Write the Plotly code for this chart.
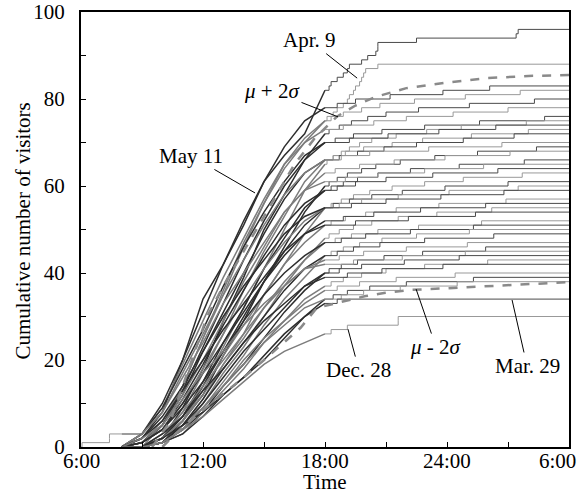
import plotly.graph_objects as go

# ---------------- data (read/estimated from the reference) ----------------
# hours of day on a continuous axis: 6 = 6:00, 24 = 24:00, 30 = 6:00 next morning
ramp_hours = [8, 9, 10, 11, 12, 13, 14, 15, 16, 17, 18]

day_names = [
    "May 11", "Apr. 9", "d83", "d82", "d80", "d78", "d76", "d75", "d74", "d73",
    "d72", "d70", "d69", "d68", "d66", "d65", "d64", "d63", "d61", "d60",
    "d59", "d57", "d56", "d55", "d54", "d52", "d51", "d50", "d49", "d47",
    "d46", "d45", "d44", "d43", "d42", "d40", "d39", "d38", "Mar. 29", "Dec. 28",
]

# cumulative number of visitors at ramp_hours for each day
ramp_counts = [
    [0, 2, 8, 20, 34, 42, 52, 61, 67, 72, 82],
    [0, 0, 5, 14, 25, 36, 47, 56, 64, 70, 75],
    [0, 3, 10, 20, 31, 42, 51, 61, 69, 75, 78],
    [0, 1, 6, 14, 25, 35, 46, 56, 65, 71, 75],
    [0, 0, 2, 9, 18, 29, 39, 50, 58, 66, 72],
    [3, 3, 9, 19, 29, 39, 48, 57, 65, 70, 73],
    [0, 1, 5, 13, 23, 33, 43, 52, 60, 66, 70],
    [0, 0, 2, 6, 14, 23, 32, 41, 50, 59, 65],
    [0, 3, 9, 18, 27, 37, 46, 54, 61, 67, 70],
    [0, 0, 2, 8, 17, 26, 36, 45, 53, 61, 66],
    [0, 1, 5, 12, 22, 31, 40, 49, 57, 63, 66],
    [0, 3, 8, 17, 26, 35, 43, 51, 58, 63, 66],
    [0, 0, 1, 6, 12, 21, 29, 38, 46, 54, 60],
    [0, 1, 5, 12, 20, 29, 38, 46, 54, 59, 63],
    [0, 0, 2, 7, 15, 24, 32, 41, 48, 55, 59],
    [0, 3, 8, 16, 24, 33, 40, 47, 54, 59, 61],
    [0, 1, 4, 11, 19, 28, 36, 44, 51, 56, 59],
    [0, 0, 1, 5, 11, 19, 26, 35, 42, 49, 55],
    [0, 0, 2, 7, 14, 22, 30, 38, 45, 51, 55],
    [0, 1, 4, 10, 18, 26, 34, 41, 47, 52, 55],
    [0, 2, 7, 14, 22, 30, 37, 43, 49, 53, 55],
    [0, 0, 2, 6, 13, 21, 28, 35, 42, 47, 51],
    [0, 1, 4, 10, 17, 24, 31, 38, 44, 49, 52],
    [0, 0, 1, 4, 10, 17, 23, 30, 37, 43, 48],
    [0, 2, 6, 13, 20, 27, 33, 39, 45, 49, 51],
    [0, 0, 2, 6, 12, 19, 25, 32, 38, 43, 47],
    [0, 1, 4, 9, 15, 22, 29, 35, 40, 44, 47],
    [0, 0, 1, 4, 9, 15, 21, 28, 34, 39, 44],
    [0, 0, 1, 5, 11, 18, 24, 30, 36, 41, 44],
    [0, 0, 3, 8, 14, 20, 26, 32, 37, 41, 43],
    [0, 0, 1, 4, 8, 14, 19, 25, 31, 36, 40],
    [0, 2, 5, 11, 17, 22, 28, 33, 37, 41, 42],
    [0, 0, 1, 5, 10, 16, 22, 27, 32, 37, 40],
    [0, 0, 1, 3, 8, 13, 18, 24, 29, 34, 37],
    [0, 0, 3, 7, 13, 18, 24, 29, 33, 37, 39],
    [0, 0, 1, 4, 9, 14, 20, 25, 29, 33, 36],
    [0, 0, 1, 3, 7, 12, 16, 21, 26, 30, 34],
    [0, 0, 1, 4, 9, 14, 19, 24, 28, 32, 34],
    [0, 0, 2, 5, 8, 12, 16, 20, 25, 30, 33],
    [0, 0, 1, 4, 7, 11, 15, 19, 22, 24, 26],
]

# arrival times (hours) of each later visitor after 18:00 (each adds one visitor)
tail_arrivals = [
    [18.2, 18.3, 18.6, 18.9, 19.1, 19.2, 19.8, 20.1, 20.5, 20.6, 20.6, 22.5, 27.4, 27.5],
    [18.1, 18.4, 18.6, 18.9, 19.1, 19.2, 19.4, 19.5, 19.7, 19.8, 19.9, 20.0, 20.6],
    [18.6, 19.5, 21.2, 23.8, 26.1],
    [18.3, 18.9, 19.8, 20.7, 22.4, 24.9, 27.6],
    [18.2, 18.7, 19.3, 20.1, 21.0, 22.6, 25.1, 28.3],
    [18.9, 20.4, 22.0, 24.3, 27.0],
    [18.5, 19.4, 20.8, 22.9, 25.6, 28.8],
    [18.1, 18.4, 18.8, 19.2, 19.7, 20.3, 21.5, 23.0, 24.7, 27.9],
    [19.2, 21.1, 23.6, 26.4],
    [18.4, 19.0, 19.9, 21.3, 22.8, 25.2, 28.0],
    [18.7, 19.6, 20.9, 22.5, 24.8, 27.3],
    [18.8, 20.2, 23.1, 26.7],
    [18.2, 18.6, 19.1, 19.8, 20.5, 21.7, 23.4, 25.5, 28.4],
    [18.5, 19.7, 21.4, 23.9, 27.1],
    [18.3, 18.9, 19.6, 20.6, 22.2, 24.6, 27.8],
    [19.0, 20.6, 22.9, 25.8],
    [18.6, 19.5, 21.0, 23.3, 26.5],
    [18.3, 18.8, 19.4, 20.2, 21.3, 22.9, 24.8, 27.7],
    [18.4, 19.2, 20.3, 21.8, 23.9, 27.0],
    [18.7, 19.8, 21.6, 24.1, 27.5],
    [19.3, 21.0, 23.7, 26.8],
    [18.3, 19.0, 20.0, 21.5, 23.6, 26.9],
    [18.9, 20.4, 22.7, 25.9],
    [18.2, 18.7, 19.4, 20.3, 21.6, 23.5, 26.2],
    [19.5, 22.1, 25.4],
    [18.5, 19.3, 20.6, 22.6, 25.7],
    [18.8, 20.0, 22.2, 25.3],
    [18.3, 18.9, 19.7, 20.8, 22.5, 25.1],
    [18.6, 19.4, 20.7, 22.9, 26.3],
    [18.7, 19.9, 22.0, 25.0],
    [18.2, 18.8, 19.6, 20.9, 22.8, 25.9],
    [19.4, 21.8, 24.9],
    [18.7, 19.8, 21.9, 24.6],
    [18.3, 18.9, 19.8, 21.0, 22.9, 26.0],
    [19.1, 20.8, 23.8],
    [18.6, 19.7, 21.5, 24.4],
    [18.4, 19.1, 20.2, 22.0, 25.3],
    [18.8, 19.9, 21.7, 24.5],
    [18.6],
    [18.3, 19.1, 21.6, 21.6],
]

# visitors arriving before 8:00 (only one day had any)
early_arrivals = {5: [6.05, 7.4, 7.4]}

# mean +/- 2 sigma envelopes
upper_hours = [9.5, 10.4, 11.0, 12.2, 13.0, 14.0, 14.66, 15.5, 16.5, 17.5, 18.6, 19.5, 20.5, 22.0, 24.0, 26.0, 28.0, 30.0]
upper_vals = [0, 6, 14, 30, 37, 45, 50, 57, 65, 71, 76, 78.5, 80.5, 82.5, 83.8, 84.8, 85.3, 85.5]
lower_hours = [10.0, 11.0, 12.0, 13.0, 14.0, 15.0, 16.0, 16.8, 17.6, 18.7, 20.0, 20.9, 22.2, 24.0, 26.0, 28.0, 30.0]
lower_vals = [0, 4.6, 8.5, 12.2, 16, 20, 24, 27.4, 32, 33.3, 34.7, 35.4, 36.1, 36.5, 37, 37.5, 37.9]

x_tick_vals = [6, 12, 18, 24, 30]
x_tick_text = ["6:00", "12:00", "18:00", "24:00", "6:00"]

# labels with leader lines: (text, x, y)
labels = [
    ("Apr. 9", 19.58, 84.8),
    ("<i>μ</i> + 2<i>σ</i>", 18.64, 75.9),
    ("May 11", 14.56, 58.4),
    ("Dec. 28", 19.13, 27.1),
    ("<i>μ</i> - 2<i>σ</i>", 22.48, 36.3),
    ("Mar. 29", 27.2, 33.8),
]
label_offsets = [(-48, -38), (-66, -26), (-64, -37), (11, 41), (20, 58), (15, 66)]

# ---------------- figure ----------------
FONT = "Liberation Serif"
FS = 21
fig = go.Figure()
ramp_colors = ["#2e2e2e", "#7c7c7c"]
tail_colors = ["#4a4a4a", "#999999"]

for i, name in enumerate(day_names):
    if i in early_arrivals:
        ea = early_arrivals[i]
        fig.add_trace(go.Scatter(
            x=[6.0] + ea + [ramp_hours[0]],
            y=[0] + list(range(1, len(ea) + 1)) + [len(ea)],
            mode="lines", line=dict(color=tail_colors[i % 2], width=1, shape="hv"),
            showlegend=False, hoverinfo="skip"))
    fig.add_trace(go.Scatter(
        x=ramp_hours, y=ramp_counts[i], mode="lines",
        line=dict(color=ramp_colors[i % 2], width=1.5), showlegend=False, name=name))
    c0 = ramp_counts[i][-1]
    arr = tail_arrivals[i]
    fig.add_trace(go.Scatter(
        x=[ramp_hours[-1]] + arr + [30],
        y=[c0] + [c0 + k + 1 for k in range(len(arr))] + [c0 + len(arr)],
        mode="lines", line=dict(color=tail_colors[i % 2], width=1, shape="hv"),
        showlegend=False, name=name))

for hx, hy in ((upper_hours, upper_vals), (lower_hours, lower_vals)):
    fig.add_trace(go.Scatter(
        x=hx, y=hy, mode="lines",
        line=dict(color="#8a8a8a", width=2.5, dash="dash"),
        showlegend=False))

for (txt, lx, ly), (ax, ay) in zip(labels, label_offsets):
    fig.add_annotation(
        x=lx, y=ly, xref="x", yref="y", text=txt, showarrow=True,
        arrowhead=0, arrowwidth=1, arrowcolor="black", ax=ax, ay=ay,
        standoff=0, startstandoff=0,
        font=dict(family=FONT, size=FS, color="black"))

# x tick labels (as text placed at the tick values, slightly closer to the axis)
for k, (tv, tt) in enumerate(zip(x_tick_vals, x_tick_text)):
    last = k == len(x_tick_vals) - 1
    fig.add_annotation(x=tv, y=0, xref="x", yref="paper", text=tt, showarrow=False,
                       xanchor="right" if last else "center", yanchor="middle",
                       xshift=9 if last else 0, yshift=-14,
                       font=dict(family=FONT, size=FS, color="black"))

# axis titles
fig.add_annotation(x=0, y=0.5, xref="paper", yref="paper", text="Cumulative number of visitors",
                   textangle=-90, showarrow=False, xanchor="center", yanchor="middle",
                   xshift=-59, yshift=-2, font=dict(family=FONT, size=FS, color="black"))
fig.add_annotation(x=0.5, y=0, xref="paper", yref="paper", text="Time",
                   showarrow=False, xanchor="center", yanchor="middle",
                   yshift=-35, font=dict(family=FONT, size=FS, color="black"))

axis_common = dict(
    showline=True, linecolor="black", linewidth=2, mirror=True,
    ticks="inside", ticklen=5, tickcolor="black", tickwidth=1,
    showgrid=False, zeroline=False, automargin=False,
    tickfont=dict(family=FONT, size=FS, color="black"),
)

fig.update_xaxes(
    range=[6, 30], tickvals=x_tick_vals, showticklabels=False,
    minor=dict(dtick=3, tick0=6, ticks="inside", ticklen=5, tickcolor="black", showgrid=False),
    **axis_common)
fig.update_yaxes(
    range=[0, 100], dtick=20, tick0=0, ticklabelstandoff=10,
    minor=dict(dtick=10, ticks="inside", ticklen=5, tickcolor="black", showgrid=False),
    **axis_common)

fig.update_layout(
    width=586, height=497,
    margin=dict(l=81, r=17, t=12, b=50),
    plot_bgcolor="white", paper_bgcolor="white",
    font=dict(family=FONT, size=FS, color="black"),
)

fig.write_html("out.html", config={"displayModeBar": False},
               post_script="document.body.style.margin='0';document.body.style.overflow='hidden';")
